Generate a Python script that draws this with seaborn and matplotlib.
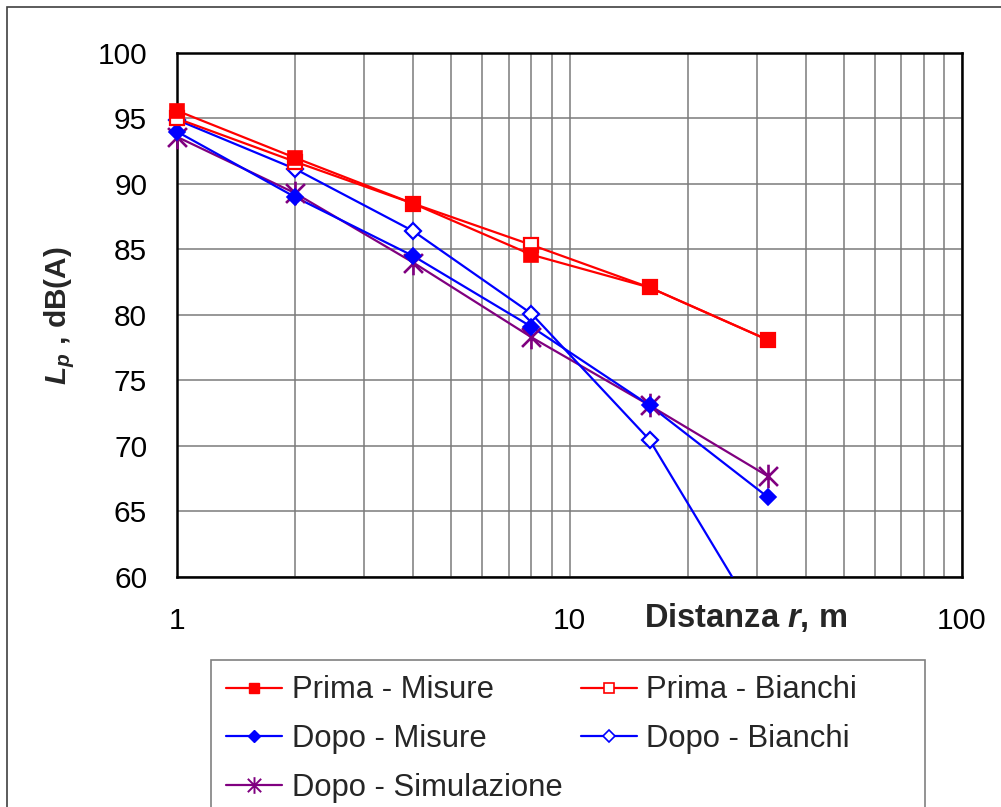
import numpy as np
import pandas as pd
import matplotlib
matplotlib.use("Agg")
import matplotlib.pyplot as plt
import seaborn as sns
from matplotlib.lines import Line2D
from matplotlib.path import Path
from matplotlib.patches import Rectangle
from matplotlib.ticker import FixedLocator, FixedFormatter, LogLocator, NullFormatter

# ---- data ----
distance = [1, 2, 4, 8, 16, 32]
prima_misure = [95.6, 92.0, 88.5, 84.6, 82.1, 78.1]
prima_bianchi = [95.0, 91.7, 88.5, 85.35, 82.1, 78.1]
dopo_misure = [94.0, 89.0, 84.5, 79.1, 73.1, 66.1]
dopo_bianchi = [94.9, 91.15, 86.4, 80.1, 70.46, 55.5]
dopo_simulazione = [93.6, 89.3, 84.0, 78.3, 73.1, 67.7]

x_ticks = [1, 10, 100]
x_ticklabels = ["1", "10", "100"]
y_ticks = [60, 65, 70, 75, 80, 85, 90, 95, 100]
y_min, y_max = 60, 100

series_names = ["Prima - Misure", "Prima - Bianchi", "Dopo - Misure",
                "Dopo - Bianchi", "Dopo - Simulazione"]
series_values = [prima_misure, prima_bianchi, dopo_misure, dopo_bianchi, dopo_simulazione]
draw_order = ["Dopo - Simulazione", "Dopo - Bianchi", "Dopo - Misure",
              "Prima - Bianchi", "Prima - Misure"]

# ---- style ----
sns.set_style("white")
plt.rcParams['font.family'] = ['Liberation Sans', 'DejaVu Sans']
plt.rcParams['mathtext.fontset'] = 'custom'
plt.rcParams['mathtext.rm'] = 'Liberation Sans'
plt.rcParams['mathtext.it'] = 'Liberation Sans:italic'
plt.rcParams['mathtext.bf'] = 'Liberation Sans:bold'
plt.rcParams['mathtext.bfit'] = 'Liberation Sans:italic:bold'

asterisk = Path([(0, -1), (0, 1), (-0.8, -0.8), (0.8, 0.8), (-0.8, 0.8), (0.8, -0.8)],
                [Path.MOVETO, Path.LINETO, Path.MOVETO, Path.LINETO, Path.MOVETO, Path.LINETO])

red = "#FF0000"
blue = "#0000FF"
purple = "#800080"
styles = {
    "Prima - Misure": dict(color=red, marker="s", ms=10, mfc=red, mec=red, mew=1.2),
    "Prima - Bianchi": dict(color=red, marker="s", ms=9.5, mfc="white", mec=red, mew=1.6),
    "Dopo - Misure": dict(color=blue, marker="D", ms=8.5, mfc=blue, mec=blue, mew=1.2),
    "Dopo - Bianchi": dict(color=blue, marker="D", ms=8.5, mfc="white", mec=blue, mew=1.6),
    "Dopo - Simulazione": dict(color=purple, marker=asterisk, ms=17, mfc=purple, mec=purple, mew=1.9),
}
legend_styles = {
    "Prima - Misure": dict(color=red, marker="s", ms=6.5, mfc=red, mec=red, mew=1.0),
    "Prima - Bianchi": dict(color=red, marker="s", ms=6.5, mfc="white", mec=red, mew=1.2),
    "Dopo - Misure": dict(color=blue, marker="D", ms=6, mfc=blue, mec=blue, mew=1.0),
    "Dopo - Bianchi": dict(color=blue, marker="D", ms=6, mfc="white", mec=blue, mew=1.2),
    "Dopo - Simulazione": dict(color=purple, marker=asterisk, ms=12, mfc=purple, mec=purple, mew=1.4),
}

fig = plt.figure(figsize=(10.01, 8.07), dpi=100)
ax = fig.add_axes([177/1001, 1-577/807, 785/1001, 524/807])

values_by_name = dict(zip(series_names, series_values))
for name in draw_order:
    vals = values_by_name[name]
    df = pd.DataFrame({"r": distance, "Lp": vals})
    st = styles[name]
    # line (clipped to the plot area)
    sns.lineplot(data=df, x="r", y="Lp", ax=ax, sort=False, linewidth=1.6,
                 color=st["color"], legend=False, zorder=3)
    # markers (not clipped, only for points within the y range)
    dfm = df[(df["Lp"] >= y_min) & (df["Lp"] <= y_max)]
    sns.lineplot(data=dfm, x="r", y="Lp", ax=ax, sort=False, linestyle="none",
                 color=st["color"], marker=st["marker"], markersize=st["ms"],
                 markerfacecolor=st["mfc"], markeredgecolor=st["mec"],
                 markeredgewidth=st["mew"], legend=False, zorder=4, clip_on=False)

ax.set_xscale("log")
ax.set_xlim(1, 100)
ax.set_ylim(y_min, y_max)
ax.xaxis.set_major_locator(FixedLocator(x_ticks))
ax.xaxis.set_major_formatter(FixedFormatter(x_ticklabels))
ax.xaxis.set_minor_locator(LogLocator(base=10, subs=np.arange(2, 10)))
ax.xaxis.set_minor_formatter(NullFormatter())
ax.set_yticks(y_ticks)
ax.set_yticklabels([str(v) for v in y_ticks])

ax.grid(True, which="major", axis="both", color="#7a7a7a", linewidth=1.1)
ax.grid(True, which="minor", axis="x", color="#7a7a7a", linewidth=1.1)
ax.set_axisbelow(True)
for s in ax.spines.values():
    s.set_visible(True)
    s.set_color("black")
    s.set_linewidth(1.8)

ax.tick_params(axis="both", which="major", direction="out", length=8.5, width=1.0,
               color="#404040", labelsize=21.5, labelcolor="black")
ax.tick_params(axis="y", pad=13)
ax.tick_params(axis="x", pad=13)
ax.tick_params(axis="x", which="minor", length=0)

ax.set_xlabel(r"Distanza $\mathbfit{r}$, m", fontsize=23.5, fontweight="bold")
ax.xaxis.label.set_va("center")
ax.xaxis.set_label_coords((746-177)/785, (577-618)/524)
ax.set_ylabel(r"$\mathbfit{L}_{\mathbfit{p}}$ , dB(A)", fontsize=21.5, fontweight="bold")
ax.yaxis.label.set_va("center")
ax.yaxis.set_label_coords((60-177)/785, (577-316)/524)

# legend
order = ["Prima - Misure", "Dopo - Misure", "Dopo - Simulazione", "Prima - Bianchi", "Dopo - Bianchi"]
handles = []
for name in order:
    st = legend_styles[name]
    handles.append(Line2D([], [], color=st["color"], linewidth=1.6, marker=st["marker"],
                          markersize=st["ms"], markerfacecolor=st["mfc"],
                          markeredgecolor=st["mec"], markeredgewidth=st["mew"]))
leg = fig.legend(handles, order, ncol=2, loc="upper left",
                 bbox_to_anchor=(211/1001, 1-660/807), bbox_transform=fig.transFigure,
                 frameon=False, fontsize=22.3, handlelength=1.8, handletextpad=0.3,
                 columnspacing=0.6, labelspacing=0.6, borderpad=0.5, borderaxespad=0)

# legend frame and outer border
fig.patches.append(Rectangle((211/1001, -0.05), (925-211)/1001, (0.05 + 1-660/807),
                             transform=fig.transFigure, fill=False, edgecolor="#808080",
                             linewidth=1.2))
fig.patches.append(Rectangle((7/1001, -0.1), 1.2, (0.1 + 1-7/807),
                             transform=fig.transFigure, fill=False, edgecolor="#404040",
                             linewidth=1.2))

fig.savefig("out.png", dpi=100)
